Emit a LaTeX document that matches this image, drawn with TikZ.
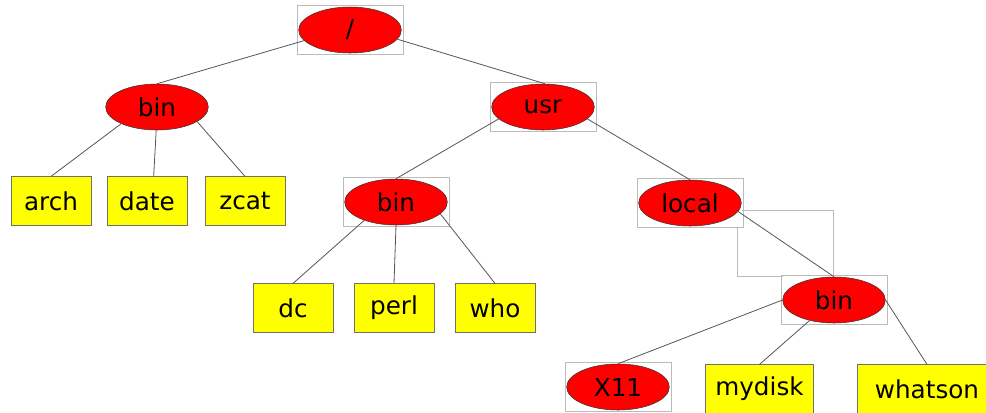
\documentclass[tikz,border=0pt]{standalone}
\usepackage{fontspec}
\setmainfont{DejaVu Sans}
\usetikzlibrary{shapes.geometric,fit}
\definecolor{edgegray}{HTML}{555555}
\definecolor{framegray}{HTML}{BBBBBB}
\definecolor{boxgray}{HTML}{707070}
\definecolor{dirred}{RGB}{255,0,0}
\definecolor{fileyellow}{RGB}{255,255,0}

\begin{document}
\begin{tikzpicture}[
  x=0.75pt, y=-0.75pt,
  dir/.style={ellipse, draw=black!80, fill=dirred, minimum width=77pt, minimum height=34.5pt, inner sep=0pt, font=\fontsize{18.5}{20}\selectfont},
  file/.style={draw=boxgray, fill=fileyellow, minimum width=60pt, minimum height=36.5pt, inner sep=0pt, font=\fontsize{18.5}{20}\selectfont},
  frame/.style={draw=framegray, inner sep=1pt},
  edge/.style={draw=edgegray, line width=0.6pt}
]
  \useasboundingbox (0,0) rectangle (986,412);
  \clip (0,0) rectangle (986,412);

  % Directories
  \node[dir] (root) at (350,30) {/};
  \node[dir] (bin) at (157,107) {bin};
  \node[dir] (usr) at (543,107) {usr};
  \node[dir] (usrbin) at (396,202) {bin};
  \node[dir] (local) at (690,203) {local};
  \node[dir] (localbin) at (834,300) {bin};
  \node[dir] (xeleven) at (618,387) {X11};

  % Files
  \node[file] (arch) at (51,201) {arch};
  \node[file] (date) at (147,201) {date};
  \node[file] (zcat) at (245,201) {zcat};
  \node[file] (dc) at (293,308) {dc};
  \node[file] (perl) at (394,308) {perl};
  \node[file] (who) at (495,308) {who};
  \node[file, minimum width=81pt] (mydisk) at (759.5,389) {mydisk};
  \node[file, minimum width=104pt] (whatson) at (927,389) {whatson};

  % Selection frames
  \foreach \n in {root,usr,usrbin,local,localbin,xeleven}
    \node[frame, fit=(\n)] (\n box) {};
  \draw[framegray] (742,210) -- (833,210) -- (833,275);
  \draw[framegray] (737,227) -- (737,276) -- (783,276);

  % Edges
  \draw[edge] (root.193) -- (bin.north);
  \draw[edge] (root.349) -- (usr.85);
  \draw[edge] (bin.205) -- (arch.north);
  \draw[edge] (bin.268) -- ([xshift=5pt]date.north);
  \draw[edge] (bin.340) -- (zcat.north);
  \draw[edge] (usr.195) -- (usrbin.north);
  \draw[edge] (usr.345) -- (local.north);
  \draw[edge] (usrbin.210) -- (dc.north);
  \draw[edge] (usrbin.south) -- (perl.north);
  \draw[edge] (usrbin.345) -- (who.north);
  \draw[edge] (local.350) -- (localbin.north);
  \draw[edge] (localbin.west) -- (xeleven.north);
  \draw[edge] (localbin.220) -- (mydisk.north);
  \draw[edge] (localbin.east) -- (whatson.north);
\end{tikzpicture}
\end{document}
